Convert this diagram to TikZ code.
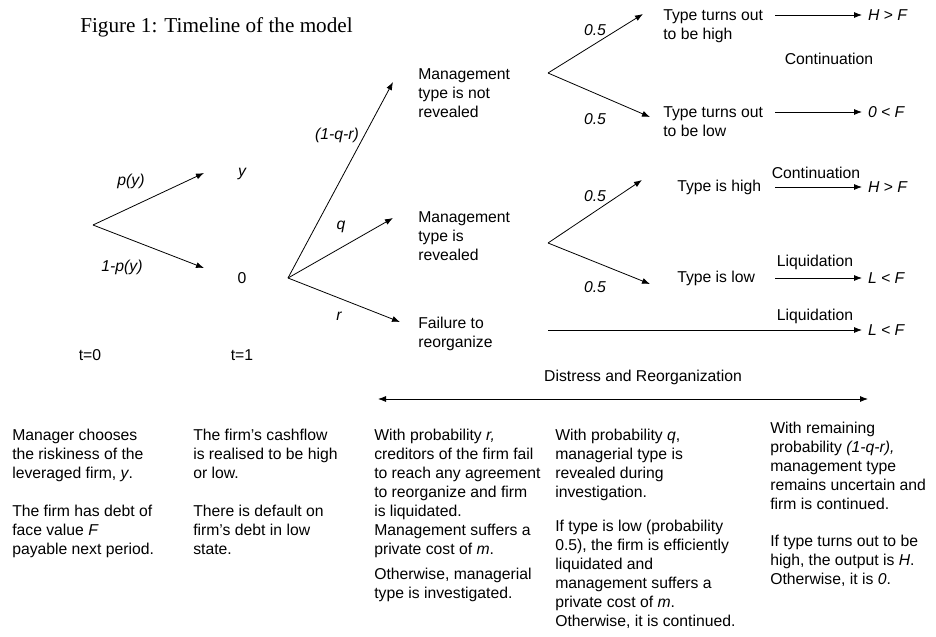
\documentclass[tikz,border=0pt]{standalone}
\usepackage{fontspec}
\setmainfont{Liberation Serif}
\setsansfont{Liberation Sans}
\usetikzlibrary{arrows.meta}
\newcommand{\dfont}{\sffamily\fontsize{11.8}{14.25}\selectfont}
\newcommand{\titlefont}{\rmfamily\fontsize{15.9}{19}\selectfont}
\tikzset{
  txt/.style={font=\dfont, align=left, anchor=north west, inner sep=0pt},
  lbl/.style={font=\dfont\itshape, inner sep=0pt},
  res/.style={font=\dfont\itshape, anchor=west, inner sep=0pt, outer sep=4.5pt},
  arr/.style={-{Latex[length=6pt,width=4.5pt]}, line width=0.6pt},
  dblarr/.style={{Latex[length=6pt,width=4.5pt]}-{Latex[length=6pt,width=4.5pt]}, line width=0.6pt},
}
\begin{document}
\begin{tikzpicture}[x=0.75pt,y=-0.75pt]
  \useasboundingbox (0,0) rectangle (936,636);
  \node[font=\titlefont, anchor=west, inner sep=0pt] (title) at (80,27) {Figure 1: Timeline of the model};

  % t=0: riskiness and cashflow
  \coordinate (t0) at (93,225);
  \coordinate (t0hi) at (204,173);
  \coordinate (t0lo) at (204,268);
  \draw[arr] (t0) -- (t0hi);
  \draw[arr] (t0) -- (t0lo);
  \node[lbl] (py) at (131,181) {p(y)};
  \node[lbl] (npy) at (122,267) {1-p(y)};
  \node[lbl] (yout) at (242,174) {y};
  \node[lbl, font=\dfont] (zout) at (242,278) {0};

  % t=1: reorganization
  \coordinate (t1) at (288,278);
  \coordinate (t1a) at (393,82);
  \coordinate (t1b) at (393,218);
  \coordinate (t1c) at (400,322);
  \draw[arr] (t1) -- (t1a);
  \draw[arr] (t1) -- (t1b);
  \draw[arr] (t1) -- (t1c);
  \node[lbl] (pa) at (337,135) {(1-q-r)};
  \node[lbl] (pb) at (341,227) {q};
  \node[lbl] (pc) at (339,316) {r};

  \node[txt] (notrev) at (418,68) {Management\\type is not\\revealed};
  \node[txt] (rev) at (418,211) {Management\\type is\\revealed};
  \node[txt] (fail) at (418,317) {Failure to\\reorganize};

  % not revealed
  \coordinate (b1) at (548,73);
  \coordinate (b1a) at (643,14);
  \coordinate (b1b) at (650,117);
  \draw[arr] (b1) -- (b1a);
  \draw[arr] (b1) -- (b1b);
  \node[lbl] (h1) at (595,30) {0.5};
  \node[lbl] (h2) at (595,119) {0.5};
  \node[txt] (hi1) at (663,9) {Type turns out\\to be high};
  \node[txt] (lo1) at (663,106) {Type turns out\\to be low};
  \node[res] (hf1) at (862,15) {H > F};
  \node[res] (zf1) at (862,112) {0 < F};
  \coordinate (s1) at (775,15);
  \coordinate (s2) at (775,112);
  \draw[arr] (s1) -- (hf1.west);
  \draw[arr] (s2) -- (zf1.west);
  \node[lbl, font=\dfont] (cont1) at (829,59) {Continuation};

  % revealed
  \coordinate (b2) at (548,243);
  \coordinate (b2a) at (642,180);
  \coordinate (b2b) at (650,284);
  \draw[arr] (b2) -- (b2a);
  \draw[arr] (b2) -- (b2b);
  \node[lbl] (h3) at (595,196) {0.5};
  \node[lbl] (h4) at (595,287) {0.5};
  \node[lbl, font=\dfont, anchor=west] (hi2) at (677,187) {Type is high};
  \node[lbl, font=\dfont, anchor=west] (lo2) at (677,278) {Type is low};
  \node[res] (hf2) at (862,187) {H > F};
  \node[res] (lf2) at (862,278) {L < F};
  \coordinate (s3) at (775,187);
  \coordinate (s4) at (775,278);
  \draw[arr] (s3) -- (hf2.west);
  \draw[arr] (s4) -- (lf2.west);
  \node[lbl, font=\dfont] (cont2) at (816,173) {Continuation};
  \node[lbl, font=\dfont] (liq1) at (815,262) {Liquidation};

  % failure
  \node[res] (lf3) at (862,330) {L < F};
  \coordinate (s5) at (548,330);
  \draw[arr] (s5) -- (lf3.west);
  \node[lbl, font=\dfont] (liq2) at (815,316) {Liquidation};

  \node[lbl, font=\dfont] (tz) at (90,355) {t=0};
  \node[lbl, font=\dfont] (to) at (242,355) {t=1};

  \coordinate (dl) at (378,399);
  \coordinate (dr) at (868,399);
  \draw[dblarr] (dl) -- (dr);
  \node[lbl, font=\dfont] (distress) at (643,377) {Distress and Reorganization};

  \node[txt] (col1) at (12,429) {Manager chooses\\the riskiness of the\\leveraged firm, \textit{y}.\\[14.25pt]The firm has debt of\\face value \textit{F}\\payable next period.};
  \node[txt] (col2) at (193,429) {The firm’s cashflow\\is realised to be high\\or low.\\[14.25pt]There is default on\\firm’s debt in low\\state.};
  \node[txt] (col3) at (374,429) {With probability \textit{r,}\\creditors of the firm fail\\to reach any agreement\\to reorganize and firm\\is liquidated.\\Management suffers a\\private cost of \textit{m}.\\[4.5pt]Otherwise, managerial\\type is investigated.};
  \node[txt] (col4) at (555,429) {With probability \textit{q},\\managerial type is\\revealed during\\investigation.\\[11pt]If type is low (probability\\0.5), the firm is efficiently\\liquidated and\\management suffers a\\private cost of \textit{m}.\\Otherwise, it is continued.};
  \node[txt] (col5) at (770,422) {With remaining\\probability \textit{(1-q-r),}\\management type\\remains uncertain and\\firm is continued.\\[13.5pt]If type turns out to be\\high, the output is \textit{H}.\\Otherwise, it is \textit{0}.};
\end{tikzpicture}
\end{document}
